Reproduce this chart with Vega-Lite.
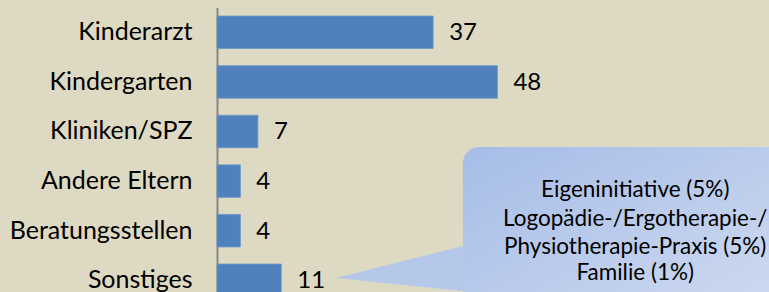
{
  "$schema": "https://vega.github.io/schema/vega-lite/v6.json",
  "width": 552,
  "height": 297.6,
  "autosize": {"type": "none"},
  "padding": {"left": 217, "top": 7.5, "right": 0, "bottom": 0},
  "background": "#DDD9C3",
  "config": {"view": {"stroke": null}, "font": "Lato"},
  "datasets": {
    "bars": [
      {"quelle": "Kinderarzt", "anzahl": 37},
      {"quelle": "Kindergarten", "anzahl": 48},
      {"quelle": "Kliniken/SPZ", "anzahl": 7},
      {"quelle": "Andere Eltern", "anzahl": 4},
      {"quelle": "Beratungsstellen", "anzahl": 4},
      {"quelle": "Sonstiges", "anzahl": 11}
    ],
    "bubble": [{"x": 42.1, "x2": 100, "y": 2.8125, "y2": 6.5}],
    "pointer": [
      {"x": 20.4, "y": 5.454, "y2": 5.454},
      {"x": 44, "y": 4.751, "y2": 5.739}
    ],
    "notes": [
      {"line": "Eigeninitiative (5%)", "x": 71.6, "y": 3.679},
      {"line": "Logopädie-/Ergotherapie-/", "x": 71.6, "y": 4.264},
      {"line": "Physiotherapie-Praxis (5%)", "x": 71.6, "y": 4.829},
      {"line": "Familie (1%)", "x": 71.6, "y": 5.353}
    ]
  },
  "layer": [
    {
      "data": {"name": "bars"},
      "encoding": {
        "y": {
          "field": "quelle",
          "type": "nominal",
          "sort": null,
          "scale": {"paddingInner": 0.345, "paddingOuter": 0.1725},
          "axis": {
            "title": null,
            "ticks": false,
            "domainColor": "#868686",
            "domainWidth": 2,
            "labelPadding": 25,
            "labelFontSize": 25,
            "labelLimit": 400,
            "labelColor": "#000000",
            "labelFont": "Lato",
            "grid": false
          }
        },
        "x": {
          "field": "anzahl",
          "type": "quantitative",
          "scale": {"domain": [0, 94.5], "nice": false},
          "axis": null
        }
      },
      "layer": [
        {"mark": {"type": "bar", "color": "#4F81BD", "stroke": "#6a95c9", "strokeWidth": 0.8}},
        {
          "mark": {"type": "text", "align": "left", "baseline": "middle", "dx": 16, "dy": 1, "fontSize": 24, "color": "#000000", "font": "Lato"},
          "encoding": {"text": {"field": "anzahl", "type": "quantitative"}}
        }
      ]
    },
    {
      "layer": [
        {
          "data": {"name": "pointer"},
          "mark": {"type": "area", "color": "#b6c8ea", "orient": "vertical"},
          "encoding": {
            "x": {"field": "x", "type": "quantitative", "scale": {"domain": [0, 94.5], "nice": false}, "axis": null},
            "y": {"field": "y", "type": "quantitative", "scale": {"domain": [0, 6], "reverse": true, "nice": false, "zero": false}, "axis": null},
            "y2": {"field": "y2"}
          }
        },
        {
          "data": {"name": "bubble"},
          "mark": {
            "type": "rect",
            "cornerRadius": 16,
            "fill": {
              "gradient": "linear",
              "x1": 0, "y1": 0, "x2": 1, "y2": 1,
              "stops": [
                {"offset": 0, "color": "#a6bde8"},
                {"offset": 1, "color": "#d2dcf0"}
              ]
            }
          },
          "encoding": {
            "x": {"field": "x", "type": "quantitative", "scale": {"domain": [0, 94.5], "nice": false}, "axis": null},
            "x2": {"field": "x2"},
            "y": {"field": "y", "type": "quantitative", "scale": {"domain": [0, 6], "reverse": true, "nice": false, "zero": false}, "axis": null},
            "y2": {"field": "y2"}
          }
        },
        {
          "data": {"name": "notes"},
          "mark": {"type": "text", "align": "center", "baseline": "middle", "fontSize": 22.5, "color": "#000000", "font": "Lato"},
          "encoding": {
            "x": {"field": "x", "type": "quantitative", "scale": {"domain": [0, 94.5], "nice": false}, "axis": null},
            "y": {"field": "y", "type": "quantitative", "scale": {"domain": [0, 6], "reverse": true, "nice": false, "zero": false}, "axis": null},
            "text": {"field": "line", "type": "nominal"}
          }
        }
      ]
    }
  ],
  "resolve": {"scale": {"y": "independent"}}
}
